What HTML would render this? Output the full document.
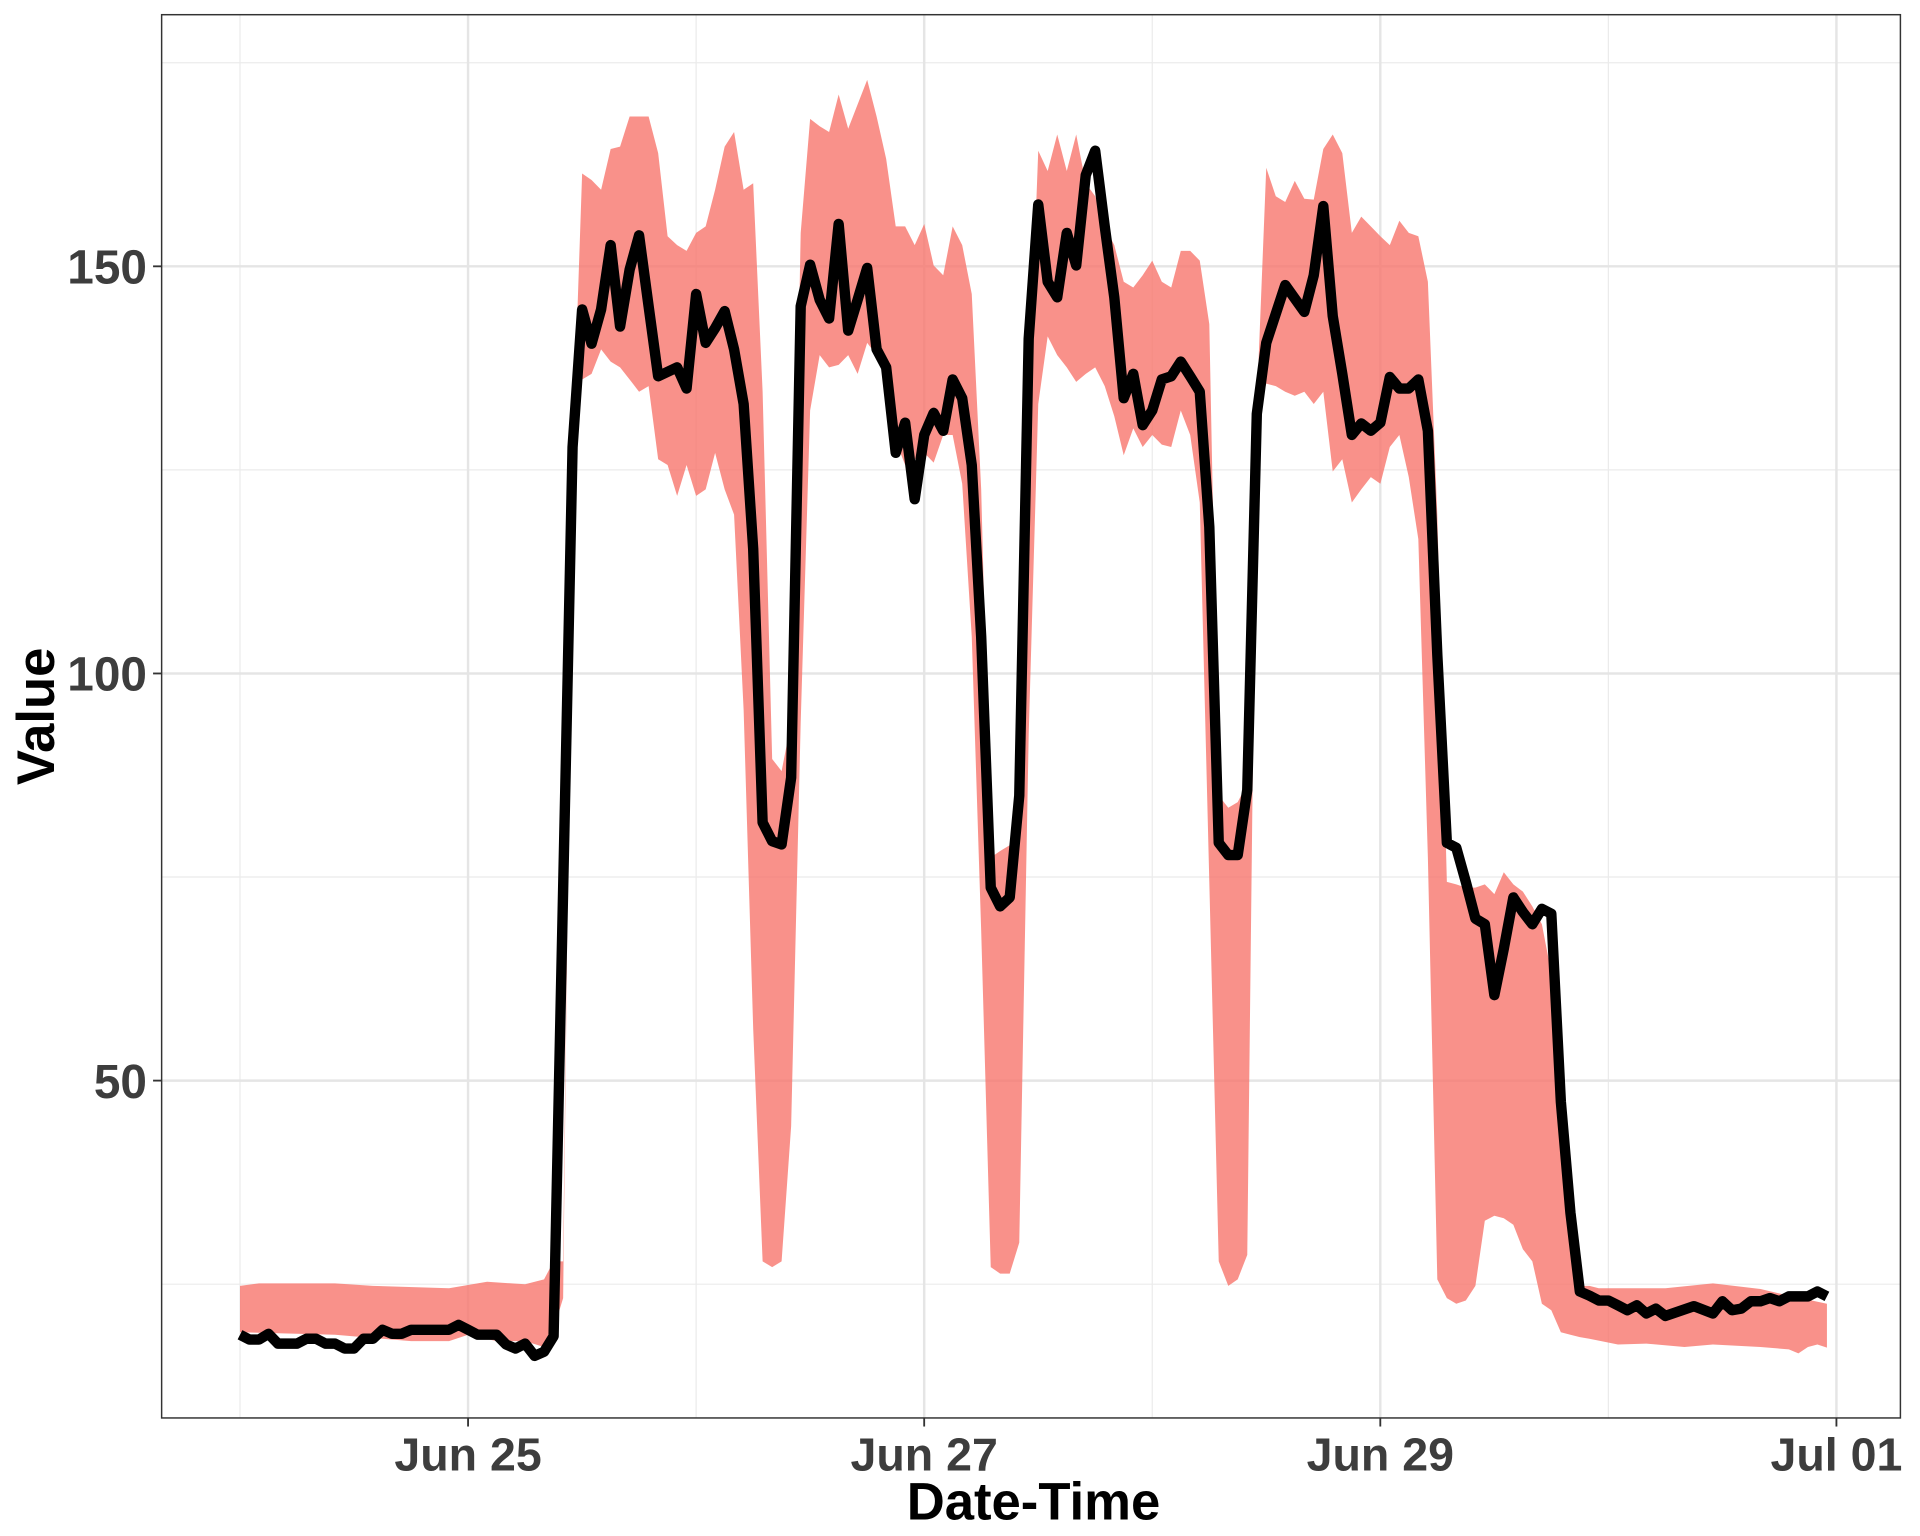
<!DOCTYPE html>
<html><head><meta charset="utf-8">
<style>
html,body{margin:0;padding:0;background:#fff;}
svg{display:block;}
text{font-family:"Liberation Sans",sans-serif;font-weight:bold;}
</style></head>
<body>
<svg id="chart" width="1920" height="1536" viewBox="0 0 1568 1254.4" xmlns="http://www.w3.org/2000/svg">
<rect x="0" y="0" width="1568" height="1254.4" fill="#fff"/>
<g id="grid"></g>
<g id="band"></g>
<g id="line"></g>
<rect x="132" y="12" width="1420" height="1146" fill="none" stroke="#333" stroke-width="1.2"/>
<g id="axes"></g>
<text x="844" y="1241" text-anchor="middle" font-size="43" fill="#000">Date-Time</text>
<text transform="translate(44,585) rotate(-90)" text-anchor="middle" font-size="43" fill="#000">Value</text>
</svg>
<script>
// ---- data (time = hours since Jun 24 00:00) ----
const lineHours=[0,1,2,3,4,6,7,8,9,10,11,12,13,14,15,16,17,18,22,23,24,25,27,28,29,30,31,32,33,35,36,37,38,39,40,41,42,43,44,46,47,48,49,50,51,52,53,54,55,56,57,58,59,60,61,62,63,64,65,66,67,68,69,70,71,72,73,74,75,76,77,78,79,80,81,82,83,84,85,86,87,88,89,90,91,92,93,94,95,96,97,98,99,100,101,102,103,104,105,106,107,108,110,112,113,114,115,116,117,118,119,120,121,122,123,124,125,126,127,128,129,130,131,132,133,134,135,136,137,138,139,140,141,142,143,144,145,146,147,148,149,150,153,155,156,157,158,159,160,161,162,163,165,166,167];
const lineValues=[18.8,18.2,18.2,18.9,17.7,17.7,18.3,18.3,17.7,17.7,17.1,17.1,18.3,18.3,19.4,18.9,18.9,19.4,19.4,20,19.4,18.8,18.8,17.6,17.1,17.7,16.2,16.7,18.6,127.8,144.7,140.5,144.7,152.6,142.6,149.6,153.8,145.1,136.5,137.6,135,146.6,140.6,142.4,144.5,139.8,133.1,115.3,81.7,79.4,79,87.2,145.1,150.2,145.9,143.6,155.2,142.1,145.9,149.8,139.8,137.6,127.1,130.8,121.4,129.3,132,129.8,136.1,133.8,125.6,104.5,73.7,71.4,72.5,85,141.1,157.6,148.1,146.2,154.1,150.1,161.2,164.2,154.9,146.2,133.8,136.8,130.5,132.3,136.1,136.5,138.3,136.5,134.6,118,79.2,77.7,77.7,85.7,131.9,140.6,147.7,144.4,148.9,157.4,143.9,136.8,129.3,130.7,129.8,130.8,136.4,135,135,136.1,129.8,102.3,79.2,78.6,74.4,69.9,69.2,60.5,66.2,72.5,70.7,69.2,71.1,70.5,47.4,33.8,24.1,23.6,23,23,22.4,21.8,22.4,21.4,22,21.1,22.3,21.4,22.9,21.8,22,22.9,22.9,23.3,22.9,23.5,23.5,24.1,23.5];
const upperHours=[0,2,10,14,22,26,30,32,33,34,35,36,37,38,39,40,41,43,44,45,46,47,48,49,50,51,52,53,54,55,56,57,58,59,60,61,62,63,64,65,66,67,68,69,70,71,72,73,74,75,76,77,78,79,80,81,82,83,84,85,86,87,88,89,90,91,92,93,94,95,96,97,98,99,100,101,102,103,104,105,106,107,108,109,110,111,112,113,114,115,116,117,118,119,120,121,122,123,124,125,126,127,128,129,130,131,132,133,134,135,136,137,138,139,140,141,142,143,150,155,160,163,167];
const upperValues=[24.8,25.1,25.1,24.8,24.5,25.3,25.0,25.6,27.8,27.8,127.1,161.4,160.6,159.4,164.4,164.7,168.4,168.4,163.9,153.7,152.6,151.9,154.1,154.9,159.4,164.7,166.5,159.4,160.2,134.6,89.5,88.0,94.0,154.1,168.1,167.2,166.5,171.1,166.9,169.9,172.9,168.4,163.2,154.9,154.9,152.6,155.2,150.1,148.9,154.9,152.6,146.6,122.6,77.4,78.2,78.9,91.0,133.1,164.2,161.7,166.2,161.7,166.2,160.2,158.6,154.9,152.6,148.1,147.4,148.9,150.7,148.1,147.4,151.9,151.9,150.7,142.9,85.0,83.5,84.2,86.5,133.1,162.1,158.6,157.9,160.5,158.3,158.2,164.4,166.2,163.9,154.1,156.1,154.9,153.7,152.6,155.6,154.1,153.7,148.1,119.5,74.4,74.1,73.7,73.7,74.1,72.9,75.6,74.1,73.2,71.4,69.2,63.2,44.4,31.6,24.8,24.8,24.5,24.5,25.1,24.4,23.6,22.6];
const lowerHours=[0,10,15,18,22,24,27,30,32,33,34,35,36,37,38,39,40,41,42,43,44,45,46,47,48,49,50,51,52,53,54,55,56,57,58,59,60,61,62,63,64,65,66,67,68,69,70,71,72,73,74,75,76,77,78,79,80,81,82,83,84,85,86,87,88,89,90,91,92,93,94,95,96,97,98,99,100,101,102,103,104,105,106,107,108,109,110,111,112,113,114,115,116,117,118,119,120,121,122,123,124,125,126,127,128,129,130,131,132,133,134,135,136,137,138,139,140,141,142,145,148,152,155,160,163,164,165,166,167];
const lowerValues=[19.1,18.8,18.3,18.0,18.0,18.8,18.0,18.0,17.3,19.5,23.3,126.3,136.1,136.8,139.8,138.3,137.6,136.1,134.6,135.3,126.3,125.6,121.8,125.6,121.8,122.6,127.1,122.6,119.5,95.5,56.4,27.8,27.1,27.8,44.4,94.0,132.3,139.1,137.6,137.9,139.1,136.8,140.6,139.1,137.6,128.6,125.6,126.3,127.1,125.9,129.3,129.3,123.3,104.5,68.4,27.1,26.3,26.3,30.1,92.5,133.1,141.4,139.1,137.6,135.8,136.8,137.6,135.3,131.6,126.8,130.1,127.8,129.3,128.1,127.8,132.3,129.3,121.0,74.4,27.8,24.8,25.6,28.6,131.6,135.6,135.3,134.6,134.1,134.6,133.1,134.6,124.8,126.3,121.0,122.6,124.1,123.3,127.8,129.3,124.1,116.5,77.4,25.6,23.3,22.6,23.0,24.8,32.8,33.4,33.1,32.3,29.3,27.8,22.6,21.8,19.1,18.8,18.5,18.3,17.6,17.7,17.3,17.6,17.3,17.0,16.5,17.3,17.6,17.2];
const xTickDays=[1,3,5,7];
const xTickLabels=["Jun 25","Jun 27","Jun 29","Jul 01"];
const xMinorDays=[0,2,4,6];
const yTickValues=[50,100,150];
const yMinorValues=[25,75,125,175];

// ---- scales ----
const X0=196, PX_PER_HOUR=186.25/24;
function xScale(h){return X0+h*PX_PER_HOUR;}
function yScale(v){return 550-(v-100)*6.65;}
const NS="http://www.w3.org/2000/svg";
function mk(tag,attrs,parent){const e=document.createElementNS(NS,tag);for(const k in attrs)e.setAttribute(k,attrs[k]);parent.appendChild(e);return e;}

const grid=document.getElementById('grid');
yMinorValues.forEach(v=>{const l=mk('line',{x1:132,x2:1552,y1:yScale(v),y2:yScale(v),stroke:'#ebebeb','stroke-width':1},grid);

});
xMinorDays.forEach(d=>{const l=mk('line',{x1:xScale(d*24),x2:xScale(d*24),y1:12,y2:1158,stroke:'#ebebeb','stroke-width':1},grid);

});
yTickValues.forEach(v=>{const l=mk('line',{x1:132,x2:1552,y1:yScale(v),y2:yScale(v),stroke:'#e5e5e5','stroke-width':2},grid);

});
xTickDays.forEach(d=>{const l=mk('line',{x1:xScale(d*24),x2:xScale(d*24),y1:12,y2:1158,stroke:'#e5e5e5','stroke-width':2},grid);

});

// band
let pts=[];
upperHours.forEach((h,i)=>pts.push(xScale(h).toFixed(1)+','+yScale(upperValues[i]).toFixed(1)));
for(let i=lowerHours.length-1;i>=0;i--)pts.push(xScale(lowerHours[i]).toFixed(1)+','+yScale(lowerValues[i]).toFixed(1));
const poly=mk('polygon',{points:pts.join(' '),fill:'#F8766D','fill-opacity':0.8},document.getElementById('band'));



// line
const lp=lineHours.map((h,i)=>xScale(h).toFixed(1)+','+yScale(lineValues[i]).toFixed(1)).join(' ');
const pl=mk('polyline',{points:lp,fill:'none',stroke:'#000','stroke-width':8.5,'stroke-linejoin':'round','stroke-linecap':'butt'},document.getElementById('line'));



// axes
const axes=document.getElementById('axes');
yTickValues.forEach(v=>{
  const t=mk('line',{x1:125,x2:132,y1:yScale(v),y2:yScale(v),stroke:'#333','stroke-width':1.5},axes);
  
  
  const tx=mk('text',{x:120,y:yScale(v)+14,'text-anchor':'end','font-size':39,fill:'#3d3d3d'},axes);
  tx.textContent=String(v);
  
  
});
xTickDays.forEach((d,i)=>{
  const x=xScale(d*24);
  const t=mk('line',{x1:x,x2:x,y1:1158,y2:1165,stroke:'#333','stroke-width':1.5},axes);
  
  
  const tx=mk('text',{x:x,y:1201,'text-anchor':'middle','font-size':38,fill:'#3d3d3d'},axes);
  tx.textContent=xTickLabels[i];
  
  
});
</script>
</body></html>
